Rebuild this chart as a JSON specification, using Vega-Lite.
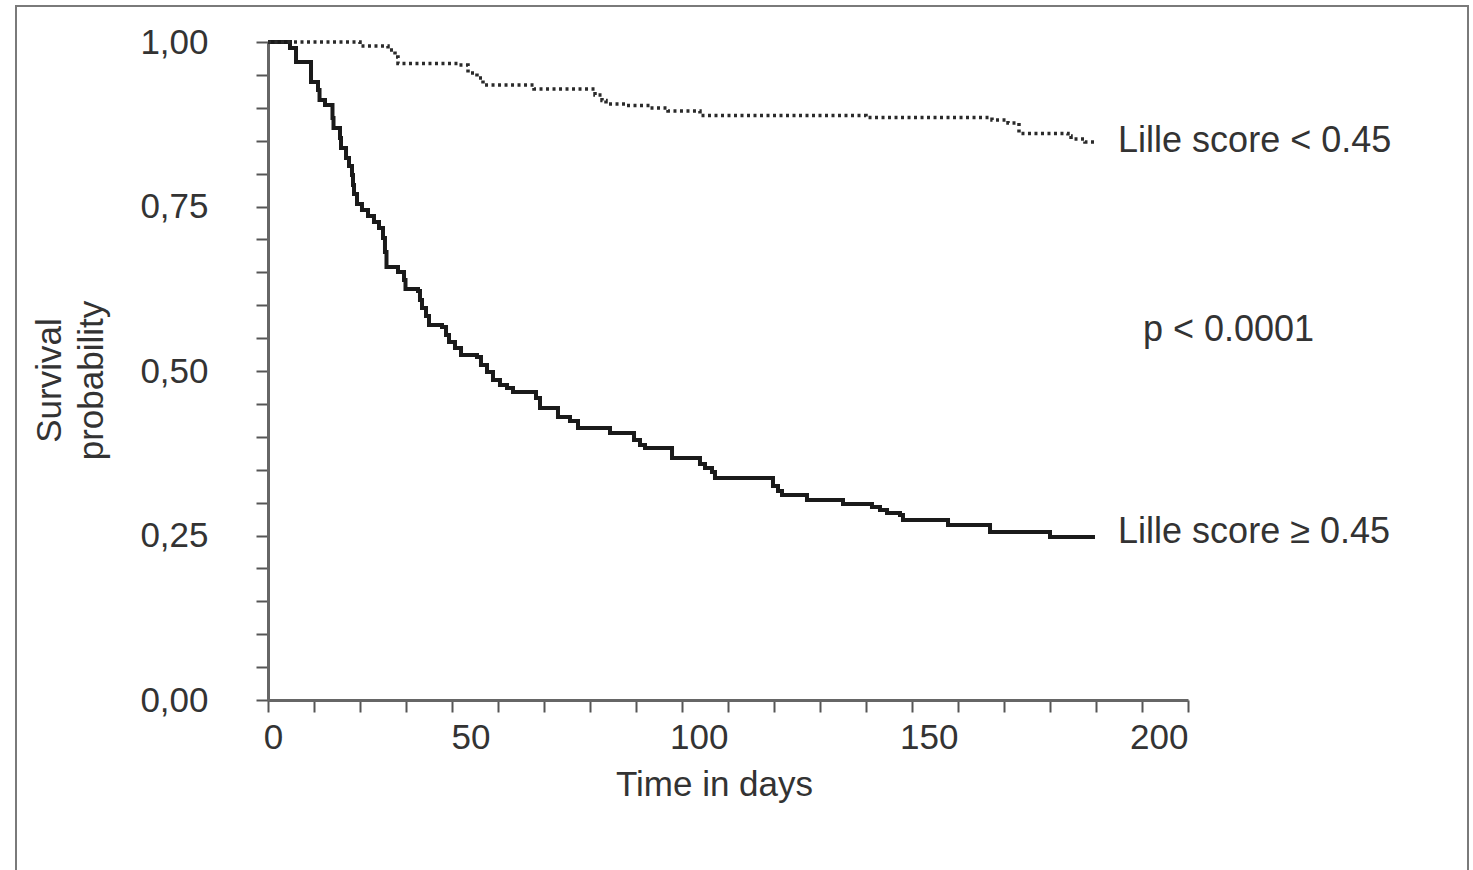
{
  "$schema": "https://vega.github.io/schema/vega-lite/v6.json",
  "width": 1452,
  "height": 880,
  "autosize": {"type": "none"},
  "padding": {"left": 16, "top": 6, "right": 5, "bottom": 0},
  "background": "white",
  "config": {
    "view": {"stroke": "#7a7a7a", "strokeWidth": 2},
    "font": "Liberation Sans"
  },
  "datasets": {
    "hi": [
      {"t": 0, "s": 1.0},
      {"t": 4.78, "s": 0.9909},
      {"t": 6.09, "s": 0.9696},
      {"t": 9.35, "s": 0.9392},
      {"t": 10.87, "s": 0.9271},
      {"t": 11.2, "s": 0.9119},
      {"t": 12.39, "s": 0.9043},
      {"t": 14.02, "s": 0.8845},
      {"t": 14.24, "s": 0.8693},
      {"t": 15.65, "s": 0.8541},
      {"t": 15.87, "s": 0.8389},
      {"t": 16.96, "s": 0.8237},
      {"t": 17.61, "s": 0.8116},
      {"t": 18.26, "s": 0.7979},
      {"t": 18.48, "s": 0.7827},
      {"t": 18.7, "s": 0.769},
      {"t": 19.35, "s": 0.7538},
      {"t": 20.43, "s": 0.7447},
      {"t": 21.74, "s": 0.7356},
      {"t": 23.04, "s": 0.7264},
      {"t": 24.13, "s": 0.7173},
      {"t": 25.0, "s": 0.7021},
      {"t": 25.43, "s": 0.6809},
      {"t": 25.76, "s": 0.6581},
      {"t": 28.26, "s": 0.6505},
      {"t": 29.57, "s": 0.6383},
      {"t": 29.89, "s": 0.6246},
      {"t": 32.61, "s": 0.6216},
      {"t": 33.04, "s": 0.6079},
      {"t": 33.48, "s": 0.5957},
      {"t": 34.35, "s": 0.5836},
      {"t": 35.0, "s": 0.5699},
      {"t": 37.83, "s": 0.5669},
      {"t": 38.7, "s": 0.5547},
      {"t": 39.35, "s": 0.5441},
      {"t": 40.65, "s": 0.535},
      {"t": 41.96, "s": 0.5243},
      {"t": 45.43, "s": 0.5213},
      {"t": 46.3, "s": 0.5091},
      {"t": 47.61, "s": 0.4985},
      {"t": 48.91, "s": 0.4863},
      {"t": 50.43, "s": 0.4787},
      {"t": 51.96, "s": 0.4742},
      {"t": 53.26, "s": 0.4681},
      {"t": 58.26, "s": 0.459},
      {"t": 59.13, "s": 0.4438},
      {"t": 63.04, "s": 0.4301},
      {"t": 65.65, "s": 0.424},
      {"t": 67.39, "s": 0.4134},
      {"t": 74.35, "s": 0.4058},
      {"t": 79.57, "s": 0.3951},
      {"t": 80.87, "s": 0.3875},
      {"t": 81.96, "s": 0.383},
      {"t": 87.83, "s": 0.3678},
      {"t": 93.91, "s": 0.3587},
      {"t": 95.0, "s": 0.3526},
      {"t": 96.52, "s": 0.3465},
      {"t": 97.17, "s": 0.3374},
      {"t": 109.78, "s": 0.3252},
      {"t": 110.87, "s": 0.3176},
      {"t": 111.74, "s": 0.3116},
      {"t": 117.17, "s": 0.304},
      {"t": 125.0, "s": 0.2979},
      {"t": 131.3, "s": 0.2933},
      {"t": 133.04, "s": 0.2888},
      {"t": 134.57, "s": 0.2842},
      {"t": 137.39, "s": 0.2812},
      {"t": 138.04, "s": 0.2736},
      {"t": 147.83, "s": 0.266},
      {"t": 156.96, "s": 0.2553},
      {"t": 170.0, "s": 0.2477},
      {"t": 179.78, "s": 0.2477}
    ],
    "lo": [
      {"t": 0, "s": 1.0},
      {"t": 20.0, "s": 0.9939},
      {"t": 26.09, "s": 0.9878},
      {"t": 27.61, "s": 0.9772},
      {"t": 28.26, "s": 0.9673},
      {"t": 41.52, "s": 0.965},
      {"t": 43.48, "s": 0.9529},
      {"t": 45.43, "s": 0.9453},
      {"t": 46.74, "s": 0.9347},
      {"t": 57.83, "s": 0.9286},
      {"t": 71.09, "s": 0.9195},
      {"t": 72.61, "s": 0.9111},
      {"t": 73.48, "s": 0.9058},
      {"t": 77.83, "s": 0.9035},
      {"t": 83.04, "s": 0.8997},
      {"t": 86.96, "s": 0.8951},
      {"t": 93.91, "s": 0.8883},
      {"t": 130.0, "s": 0.8853},
      {"t": 157.39, "s": 0.8815},
      {"t": 160.87, "s": 0.8769},
      {"t": 163.26, "s": 0.8609},
      {"t": 173.91, "s": 0.8571},
      {"t": 174.57, "s": 0.8526},
      {"t": 177.6, "s": 0.848},
      {"t": 179.78, "s": 0.848}
    ],
    "notes": [
      {"label": "Lille score < 0.45", "t": 184.8, "s": 0.8328},
      {"label": "p < 0.0001", "t": 190.2, "s": 0.5456},
      {"label": "Lille score ≥ 0.45", "t": 184.8, "s": 0.2386}
    ]
  },
  "layer": [
    {
      "data": {"name": "hi"},
      "mark": {"type": "line", "interpolate": "step-after", "color": "#1a1a1a", "strokeWidth": 4},
      "encoding": {
        "x": {
          "field": "t", "type": "quantitative",
          "scale": {"domain": [0, 200], "range": [252, 1172], "nice": false, "zero": false},
          "axis": {
            "values": [0, 10, 20, 30, 40, 50, 60, 70, 80, 90, 100, 110, 120, 130, 140, 150, 160, 170, 180, 190, 200],
            "labelExpr": "datum.value % 50 == 0 ? datum.label : ''",
            "labelAlign": {"condition": {"test": "datum.value == 0", "value": "center"}, "value": "right"},
            "labelOffset": {"condition": [{"test": "datum.value == 0", "value": 5}, {"test": "datum.value == 50", "value": -8}], "value": 0},
            "labelOverlap": false,
            "labelBound": false,
            "labelFlush": false,
            "offset": -186,
            "grid": false,
            "tickSize": 12, "tickWidth": 2, "tickColor": "#555",
            "domainColor": "#666", "domainWidth": 3,
            "labelFontSize": 35, "labelColor": "#333", "labelPadding": 8, "labelBaseline": "top",
            "title": "Time in days",
            "titleFontSize": 35, "titleFontWeight": "normal", "titleColor": "#333",
            "titleX": 698, "titleY": 95, "titleBaseline": "alphabetic", "titleAlign": "center"
          }
        },
        "y": {
          "field": "s", "type": "quantitative",
          "scale": {"domain": [0, 1], "range": [694, 36], "nice": false, "zero": false},
          "axis": {
            "values": [0, 0.05, 0.1, 0.15, 0.2, 0.25, 0.3, 0.35, 0.4, 0.45, 0.5, 0.55, 0.6, 0.65, 0.7, 0.75, 0.8, 0.85, 0.9, 0.95, 1],
            "labelExpr": "abs(datum.value * 4 - round(datum.value * 4)) < 0.001 ? replace(format(datum.value, '.2f'), '.', ',') : ''",
            "labelOverlap": false,
            "labelBound": false,
            "labelFlush": false,
            "offset": -252,
            "grid": false,
            "tickSize": 12, "tickWidth": 2, "tickColor": "#555",
            "domainColor": "#666", "domainWidth": 3,
            "labelFontSize": 35, "labelColor": "#333", "labelPadding": 48, "labelBaseline": "middle",
            "title": ["Survival", "probability"],
            "titleFontSize": 35, "titleFontWeight": "normal", "titleColor": "#333",
            "titleLineHeight": 42,
            "titleX": -219, "titleY": 374, "titleBaseline": "middle", "titleAlign": "center", "titleAngle": -90
          }
        }
      }
    },
    {
      "data": {"name": "lo"},
      "mark": {"type": "line", "interpolate": "step-after", "color": "#2a2a2a", "strokeWidth": 3.5, "strokeDash": [3, 3.5]},
      "encoding": {
        "x": {"field": "t", "type": "quantitative"},
        "y": {"field": "s", "type": "quantitative"}
      }
    },
    {
      "data": {"name": "notes"},
      "mark": {"type": "text", "align": "left", "baseline": "alphabetic", "fontSize": 36, "color": "#333", "font": "Liberation Sans"},
      "encoding": {
        "x": {"field": "t", "type": "quantitative"},
        "y": {"field": "s", "type": "quantitative"},
        "text": {"field": "label", "type": "nominal"}
      }
    }
  ]
}
